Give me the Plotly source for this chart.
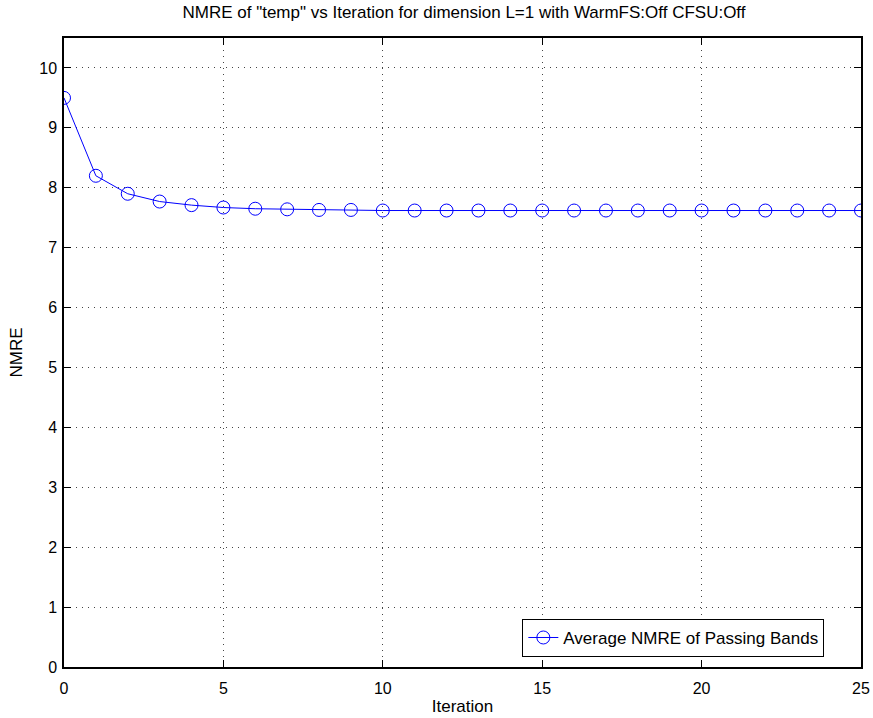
import plotly.graph_objects as go

iterations = list(range(0, 26))
nmre = [9.50, 8.20, 7.90, 7.77, 7.71, 7.67, 7.65, 7.64, 7.63, 7.63, 7.62, 7.62, 7.62,
        7.62, 7.62, 7.62, 7.62, 7.62, 7.62, 7.62, 7.62, 7.62, 7.62, 7.62, 7.62, 7.62]
series_name = "Average NMRE of Passing Bands"
x_ticks = [0, 5, 10, 15, 20, 25]
y_ticks = list(range(0, 11))

fig = go.Figure()
fig.add_trace(go.Scatter(
    x=iterations, y=nmre, mode="lines+markers", name=series_name,
    line=dict(color="#0000ff", width=1),
    marker=dict(symbol="circle-open", size=13, color="#0000ff", line=dict(width=1)),
))

axis_common = dict(
    showline=True, linecolor="black", linewidth=1.5, mirror="ticks",
    ticks="inside", ticklen=7, tickcolor="black",
    showgrid=True, gridcolor="#444444", griddash="1px,5px", gridwidth=1,
    zeroline=False, tickfont=dict(size=16, color="black"), automargin=False,
)

fig.update_layout(
    width=873, height=718,
    margin=dict(l=64, r=12, t=38, b=51),
    paper_bgcolor="white", plot_bgcolor="white",
    font=dict(family="Liberation Sans, Arial, sans-serif", color="black"),
    title=dict(text='NMRE of "temp" vs Iteration for dimension L=1 with WarmFS:Off CFSU:Off',
               x=(168 + 760) / 2 / 873, xanchor="center", y=1 - 12/718, yanchor="middle",
               font=dict(size=17)),
    xaxis=dict(range=[0, 25], tickvals=x_ticks, ticklabelstandoff=6,
               title=dict(text="Iteration", font=dict(size=17), standoff=4),
               **axis_common),
    yaxis=dict(range=[0, 10.5], tickvals=y_ticks, ticklabelstandoff=2,
               title=dict(text="NMRE", font=dict(size=17), standoff=12),
               **axis_common),
    showlegend=True,
    legend=dict(x=0.954, y=0.016, xanchor="right", yanchor="bottom",
                bordercolor="black", borderwidth=1, bgcolor="white",
                font=dict(size=17), tracegroupgap=0),
)

fig.write_html("out.html")
